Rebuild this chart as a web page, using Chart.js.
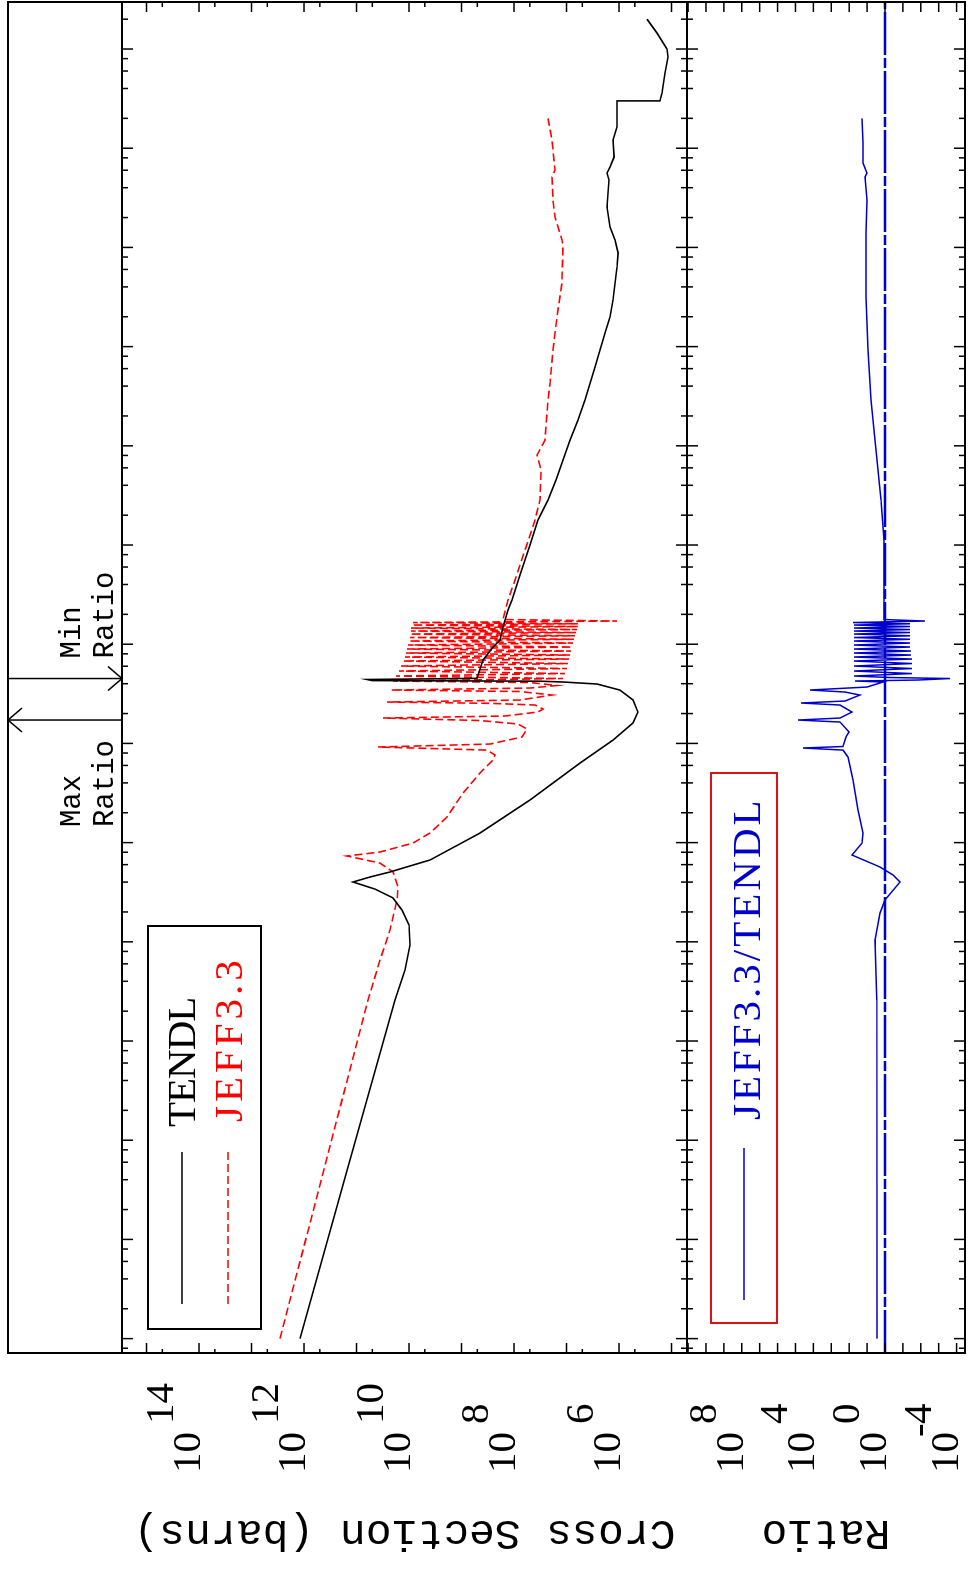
<!DOCTYPE html>
<html>
<head>
<meta charset="utf-8">
<script src="https://cdn.jsdelivr.net/npm/chart.js@4.4.1/dist/chart.umd.min.js"></script>
<style>
html,body{margin:0;padding:0;background:#fff;overflow:hidden;width:968px;height:1573px;}
#rot{position:absolute;left:0;top:0;width:1573px;height:968px;transform-origin:0 0;transform:translate(0,1573px) rotate(-90deg);background:#fff;}
#rot canvas{position:absolute;left:0;top:0;width:1573px;height:968px;}
</style>
</head>
<body>
<div id="rot">
<canvas id="c1" width="1573" height="968"></canvas>
<canvas id="c2" width="1573" height="968"></canvas>
</div>
<script>
// ---- data (energy in MeV, cross section in barns) ----
const energyTENDL = [1e-11,5.37e-10,2.59e-8,5.2e-8,9.29e-8,1.48e-7,2.09e-7,2.77e-7,3.40e-7,4.01e-7,4.50e-7,5.06e-7,6.68e-7,1.25e-6,2.69e-6,6.34e-6,1.08e-5,1.61e-5,2.07e-5,2.74e-5,3.45e-5,3.97e-5,4.16e-5,4.24e-5,4.30e-5,4.41e-5,4.53e-5,6.93e-5,9.37e-5,1.10e-4,1.49e-4,2.21e-4,2.79e-4,4.99e-4,1.0e-3,1.79e-3,2.84e-3,4.52e-3,7.19e-3,1.14e-2,1.82e-2,2.90e-2,6.22e-2,9.24e-2,0.137,0.199,0.295,0.634,0.879,1.19,1.61,2.55,3.53,4.78,5.62,6.46,8.15,12.1,16.4,22.6,30,30,36.0,57.3,83,100,145,200];
const sigmaTENDL = [1.19e12,1.45e11,1.85e10,1.19e10,9.57e9,1.0e10,1.36e10,2.02e10,4.44e10,1.17e11,5.53e10,2.30e10,3.98e9,4.44e8,4.96e7,5.53e6,1.30e6,5.41e5,4.35e5,5.41e5,9.57e5,2.62e6,1.17e7,3.20e7,5.07e10,6.31e10,5.07e8,3.89e8,2.51e8,1.85e8,1.62e8,1.30e8,1.09e8,7.69e7,4.96e7,3.49e7,2.25e7,1.58e7,1.17e7,8.58e6,6.04e6,4.44e6,2.86e6,2.30e6,1.85e6,1.48e6,1.30e6,1.09e6,1.04e6,1.19e6,1.48e6,1.69e6,1.62e6,1.55e6,1.69e6,1.48e6,1.24e6,1.30e6,1.09e6,1.09e6,1.09e6,1.66e5,1.52e5,1.33e5,1.17e5,1.22e5,1.89e5,2.93e5];

const energyJEFF = [1e-11,2.59e-8,6.56e-8,1.32e-7,2.64e-7,3.57e-7,5.06e-7,6.22e-7,7.33e-7,8.04e-7,9.9e-7,1.25e-6,1.81e-6,3.16e-6,5.04e-6,6.81e-6,7.64e-6,8.57e-6,9.20e-6,
 9.86e-6,1.160e-5,1.397e-5,1.569e-5,1.701e-5,1.803e-5,
 1.889e-5,2.073e-5,2.222e-5,2.438e-5,2.536e-5,2.614e-5,
 2.738e-5,3.074e-5,3.336e-5,3.454e-5,
 3.618e-5,3.834e-5,4.110e-5,4.256e-5,
 4.510e-5,4.779e-5,5.064e-5,5.367e-5,5.688e-5,6.027e-5,6.387e-5,6.768e-5,7.090e-5,7.430e-5,7.780e-5,8.152e-5,8.540e-5,8.945e-5,9.370e-5,9.815e-5,1.028e-4,1.077e-4,1.122e-4,1.168e-4,1.217e-4,1.267e-4,1.312e-4,1.358e-4,1.406e-4,1.456e-4,1.508e-4,1.561e-4,1.607e-4,1.654e-4,1.713e-4,1.774e-4,
 2.79e-4,4.44e-4,8.90e-4,1.79e-3,2.84e-3,5.70e-3,8.08e-3,1.14e-2,2.90e-2,4.30e-2,9.24e-2,0.199,0.438,1.01,1.19,2.03,3.00,5.13,6.03,12.1,20];
const sigmaJEFF = [2.87e12,6.04e10,3.57e10,2.30e10,1.69e10,1.62e10,2.02e10,3.57e10,1.52e11,3.57e10,8.39e9,3.98e9,1.89e9,9.36e8,4.44e8,2.51e8,2.30e8,3.27e8,3.90e10,
 2.86e8,7.04e7,5.65e7,8.39e7,4.44e8,3.13e10,
 1.48e8,3.49e7,2.80e7,3.98e7,2.86e8,2.62e10,
 7.69e7,1.89e7,7.69e7,2.20e10,
 4.96e7,1.52e7,4.96e7,2.02e10,
 1.17e7,1.77e10,1.07e7,1.55e10,9.78e6,1.42e10,9.36e6,1.30e10,8.96e6,1.19e10,8.58e6,1.14e10,8.21e6,1.09e10,7.86e6,1.04e10,7.52e6,1.0e10,7.20e6,9.57e9,6.89e6,9.57e9,6.59e6,9.16e9,6.31e6,9.16e9,6.04e6,8.77e9,6.04e6,8.39e9,1.09e6,1.62e8,
 1.30e8,9.57e7,6.17e7,3.98e7,3.20e7,3.06e7,3.65e7,2.57e7,2.25e7,2.06e7,1.81e7,1.52e7,1.22e7,1.17e7,1.22e7,1.66e7,1.81e7,1.89e7,1.66e7,1.89e7,2.25e7];

const energyRatio = [1e-11,2.59e-8,1.04e-7,1.95e-7,2.64e-7,4.01e-7,4.72e-7,5.68e-7,7.50e-7,9.9e-7,1.25e-6,2.13e-6,4.28e-6,7.29e-6,8.57e-6,8.99e-6,9.31e-6,1.160e-5,1.302e-5,1.643e-5,1.721e-5,1.803e-5,2.073e-5,2.438e-5,2.555e-5,2.676e-5,3.074e-5,3.297e-5,3.454e-5,3.702e-5,4.16e-5,
 4.256e-5,4.356e-5,4.510e-5,4.616e-5,4.779e-5,5.064e-5,5.367e-5,5.688e-5,6.027e-5,6.387e-5,6.768e-5,7.090e-5,7.430e-5,7.780e-5,8.152e-5,8.540e-5,8.945e-5,9.370e-5,9.815e-5,1.028e-4,1.077e-4,1.122e-4,1.168e-4,1.217e-4,1.267e-4,1.312e-4,1.358e-4,1.406e-4,1.456e-4,1.508e-4,1.561e-4,1.607e-4,1.654e-4,1.713e-4,1.774e-4,
 2.79e-4,1.123e-3,2.84e-3,5.70e-3,1.14e-2,2.90e-2,9.24e-2,0.316,1.40,3.00,5.13,5.62,7.09,11.3,20];
const ratioJEFFTENDL = [2.8,2.9,3.62,1.90,1.0,0.145,0.357,1.90,69.8,19.3,16.9,32.3,61.4,117,222,3.81e4,222,151,103,327,7.24e4,327,69.8,327,4.93e4,172,24.9,172,1.55e4,10.1,1.29,
 47.4,0.0143,2.34e-4,0.526,54,0.031,54,0.031,54,0.031,54,0.031,54,0.035,54,0.035,54,0.040,54,0.040,54,0.040,54,0.040,54,0.040,54,0.040,54,0.040,54,0.040,61,5.82e-3,1.14,
 1.14,1.14,1.67,2.46,3.62,6.06,8.91,11.5,11.5,10.1,13.1,10.1,16.9,16.9,19.3];

const sigmaTickExponents = [14, 12, 10, 8, 6];
const ratioTickExponents = [8, 4, 0, -4];
const seriesNames = ['TENDL', 'JEFF3.3', 'JEFF3.3/TENDL'];
const axisTitles = ['Cross Section (barns)', 'Ratio'];

// ---- axis limits ----
const E_MIN = Math.pow(10, -11.145), E_MAX = Math.pow(10, 2.474);
const S_MIN = Math.pow(10, 4.705), S_MAX = Math.pow(10, 15.467);
const R_MIN = Math.pow(10, -4.47), R_MAX = Math.pow(10, 11.06);

const L = 220, R = 1571, STRIP = 8, TOP = 122, MID = 687, BOT = 965;
const BLUE = '#0000cc', RED = '#ff0000';

function seg(ctx, x1, y1, x2, y2) { ctx.beginPath(); ctx.moveTo(x1, y1); ctx.lineTo(x2, y2); ctx.stroke(); }

function energyTicks(ctx, xs, y, dir) {
  for (let k = -12; k <= 2; k++) {
    for (const m of [1, 2, 4, 6, 8]) {
      const v = m * Math.pow(10, k);
      if (v < E_MIN || v > E_MAX) continue;
      const px = xs.getPixelForValue(v);
      seg(ctx, px, y, px, y + dir * (m === 1 ? 11 : 6));
    }
  }
}

function expLabel(ctx, py, e) {
  ctx.fillText('10', 100, py + 1);
  if (e < 0) {
    ctx.fillText('-', 136, py - 26);
    ctx.fillText(String(-e), 149, py - 26);
  } else {
    ctx.fillText(String(e), 149, py - 26);
  }
}

const plot1Deco = {
  id: 'plot1Deco',
  afterDraw(chart) {
    const ctx = chart.ctx, xs = chart.scales.x, ys = chart.scales.y;
    ctx.save();
    ctx.strokeStyle = '#000'; ctx.lineWidth = 2;
    ctx.strokeRect(L, STRIP, R - L, BOT - STRIP);
    seg(ctx, L, TOP, R, TOP);
    seg(ctx, L, MID, R, MID);
    ctx.lineWidth = 1.5;
    energyTicks(ctx, xs, TOP, 1);
    energyTicks(ctx, xs, MID, -1);
    for (let k = 4; k <= 15; k++) {
      for (const m of [1, 5]) {
        const v = m * Math.pow(10, k);
        if (v < S_MIN || v > S_MAX) continue;
        const py = ys.getPixelForValue(v);
        seg(ctx, L, py, L + (m === 1 ? 10 : 4), py);
        seg(ctx, R, py, R - (m === 1 ? 10 : 5), py);
      }
    }
    ctx.fillStyle = '#000';
    ctx.font = '41px "Liberation Serif"';
    ctx.textAlign = 'left'; ctx.textBaseline = 'alphabetic';
    for (const e of sigmaTickExponents) expLabel(ctx, ys.getPixelForValue(Math.pow(10, e)), e);
    ctx.save();
    ctx.translate(52, (TOP + MID) / 2);
    ctx.rotate(-Math.PI / 2);
    ctx.textAlign = 'center';
    ctx.font = '43px "Liberation Mono"';
    ctx.fillText(axisTitles[0], 0, 0);
    ctx.restore();
    // legend
    ctx.lineWidth = 2;
    ctx.strokeRect(244, 148, 403, 113);
    ctx.lineWidth = 1.6;
    seg(ctx, 269, 182, 421, 182);
    ctx.strokeStyle = RED; ctx.setLineDash([8, 4]);
    seg(ctx, 269, 228, 421, 228);
    ctx.setLineDash([]);
    ctx.font = '41px "Liberation Serif"';
    ctx.textAlign = 'left';
    ctx.letterSpacing = '-1px';
    ctx.fillStyle = '#000';
    ctx.fillText(seriesNames[0], 446, 195);
    ctx.letterSpacing = '4px';
    ctx.fillStyle = RED;
    ctx.fillText(seriesNames[1], 451, 242);
    ctx.letterSpacing = '0px';
    // max / min ratio markers
    let iMax = 0, iMin = 0;
    ratioJEFFTENDL.forEach((v, i) => { if (v > ratioJEFFTENDL[iMax]) iMax = i; if (v < ratioJEFFTENDL[iMin]) iMin = i; });
    const xMax = xs.getPixelForValue(energyRatio[iMax]);
    const xMin = xs.getPixelForValue(energyRatio[iMin]);
    ctx.strokeStyle = '#000'; ctx.lineWidth = 1.5;
    seg(ctx, xMax, STRIP, xMax, TOP);
    seg(ctx, xMax, STRIP, xMax + 12, STRIP + 14);
    seg(ctx, xMax, STRIP, xMax - 12, STRIP + 14);
    seg(ctx, xMin, STRIP, xMin, TOP);
    seg(ctx, xMin, TOP, xMin + 12, TOP - 14);
    seg(ctx, xMin, TOP, xMin - 12, TOP - 14);
    ctx.fillStyle = '#000';
    ctx.font = '29px "Liberation Mono"';
    ctx.textAlign = 'left';
    ctx.fillText('Max', xMax - 107, 80);
    ctx.fillText('Ratio', xMax - 107, 113);
    ctx.fillText('Min', xMin + 20, 80);
    ctx.fillText('Ratio', xMin + 20, 113);
    ctx.restore();
  }
};

const plot2Deco = {
  id: 'plot2Deco',
  afterDraw(chart) {
    const ctx = chart.ctx, xs = chart.scales.x, ys = chart.scales.y;
    ctx.save();
    ctx.strokeStyle = '#000'; ctx.lineWidth = 2;
    seg(ctx, L, BOT, R, BOT);
    seg(ctx, L, MID, L, BOT);
    seg(ctx, R, MID, R, BOT);
    ctx.lineWidth = 1.5;
    energyTicks(ctx, xs, MID, 1);
    energyTicks(ctx, xs, BOT, -1);
    for (let k = -5; k <= 12; k++) {
      const v = Math.pow(10, k);
      if (v < R_MIN || v > R_MAX) continue;
      const py = ys.getPixelForValue(v);
      seg(ctx, L, py, L + 10, py);
      seg(ctx, R, py, R - 10, py);
    }
    ctx.fillStyle = '#000';
    ctx.font = '41px "Liberation Serif"';
    ctx.textAlign = 'left'; ctx.textBaseline = 'alphabetic';
    for (const e of ratioTickExponents) expLabel(ctx, ys.getPixelForValue(Math.pow(10, e)), e);
    ctx.save();
    ctx.translate(52, (MID + BOT) / 2);
    ctx.rotate(-Math.PI / 2);
    ctx.textAlign = 'center';
    ctx.font = '43px "Liberation Mono"';
    ctx.fillText(axisTitles[1], 0, 0);
    ctx.restore();
    // legend
    ctx.strokeStyle = '#dd1111'; ctx.lineWidth = 2;
    ctx.strokeRect(250, 711, 550, 66);
    ctx.strokeStyle = BLUE; ctx.lineWidth = 1.6;
    seg(ctx, 273, 744, 425, 744);
    ctx.fillStyle = BLUE;
    ctx.font = '41px "Liberation Serif"';
    ctx.textAlign = 'left';
    ctx.letterSpacing = '3px';
    ctx.fillText(seriesNames[2], 453, 760);
    ctx.letterSpacing = '0px';
    ctx.restore();
  }
};

const xAxis = { type: 'logarithmic', min: E_MIN, max: E_MAX, display: false };

new Chart(document.getElementById('c1'), {
  type: 'scatter',
  data: {
    datasets: [
      { label: seriesNames[0], data: energyTENDL.map((e, i) => ({ x: e, y: sigmaTENDL[i] })), showLine: true, borderColor: '#000', borderWidth: 1.6, pointRadius: 0, tension: 0 },
      { label: seriesNames[1], data: energyJEFF.map((e, i) => ({ x: e, y: sigmaJEFF[i] })), showLine: true, borderColor: RED, borderWidth: 1.6, borderDash: [8, 4], pointRadius: 0, tension: 0 }
    ]
  },
  options: {
    responsive: false, animation: false,
    layout: { padding: { left: L, right: 1573 - R, top: TOP, bottom: 968 - MID } },
    scales: { x: xAxis, y: { type: 'logarithmic', min: S_MIN, max: S_MAX, display: false } },
    plugins: { legend: { display: false }, tooltip: { enabled: false } }
  },
  plugins: [plot1Deco]
});

new Chart(document.getElementById('c2'), {
  type: 'scatter',
  data: {
    datasets: [
      { label: 'ratio = 1', data: [{ x: E_MIN, y: 1 }, { x: E_MAX, y: 1 }], showLine: true, borderColor: BLUE, borderWidth: 2.5, borderDash: [43, 3, 10, 3], pointRadius: 0 },
      { label: seriesNames[2], data: energyRatio.map((e, i) => ({ x: e, y: ratioJEFFTENDL[i] })), showLine: true, borderColor: BLUE, borderWidth: 1.5, pointRadius: 0, tension: 0 }
    ]
  },
  options: {
    responsive: false, animation: false,
    layout: { padding: { left: L, right: 1573 - R, top: MID, bottom: 968 - BOT } },
    scales: { x: xAxis, y: { type: 'logarithmic', min: R_MIN, max: R_MAX, display: false } },
    plugins: { legend: { display: false }, tooltip: { enabled: false } }
  },
  plugins: [plot2Deco]
});
</script>
</body>
</html>
